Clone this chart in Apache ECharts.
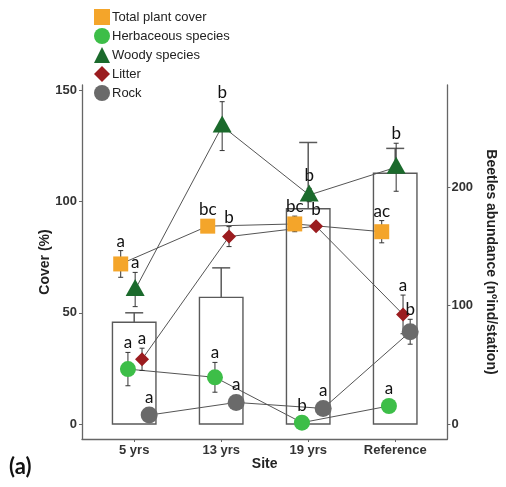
<!DOCTYPE html>
<html><head><meta charset="utf-8">
<script src="https://cdn.jsdelivr.net/npm/echarts@6/dist/echarts.min.js"></script>
<style>html,body{margin:0;padding:0;background:#fff}#c{width:506px;height:487px}</style>
</head><body><div id="c"></div>
<script>
// ---- data ----
const sites = ['5 yrs', '13 yrs', '19 yrs', 'Reference'];
const beetles = [86, 107, 182, 212];
const beetlesSE = [8, 25, 56, 21];
const totalCover = [72, 89, 90, 86.5];
const totalCoverSE = [6, 2, 3.5, 5];
const totalCoverLetters = ['a', 'bc', 'bc', 'ac'];
const herbaceous = [24.7, 21, 0.6, 8.1];
const herbaceousSE = [7.5, 6.7, 0.5, 0.5];
const herbaceousLetters = ['a', 'a', 'b', 'a'];
const woody = [60.5, 134, 103, 115.5];
const woodySE = [7.7, 11, 3, 10.8];
const woodyLetters = ['a', 'b', 'b', 'b'];
const litter = [29.1, 84.3, 89, 49.3];
const litterSE = [5, 4.5, 1.5, 8.7];
const litterLetters = ['a', 'b', 'b', 'a'];
const rock = [4, 9.7, 7, 41.5];
const rockSE = [1, 1.5, 1.5, 5.6];
const rockLetters = ['a', 'a', 'a', 'b'];
const coverTicks = [0, 50, 100, 150];
const beetleTicks = [0, 100, 200];
const siteTicks = [0, 1, 2, 3];

// ---- styling ----
const groups = [
  { name: 'Total plant cover', vals: totalCover, se: totalCoverSE, letters: totalCoverLetters, color: '#F4A52A', symbol: 'rect', size: 15, dx: -0.155, off: 0 },
  { name: 'Herbaceous species', vals: herbaceous, se: herbaceousSE, letters: herbaceousLetters, color: '#3DBE48', symbol: 'circle', size: 16, dx: -0.072, off: 0 },
  { name: 'Woody species', vals: woody, se: woodySE, letters: woodyLetters, color: '#1B6A2C', symbol: 'triangle', size: [19, 17], dx: 0.011, off: -2 },
  { name: 'Litter', vals: litter, se: litterSE, letters: litterLetters, color: '#9B1C1F', symbol: 'diamond', size: 14, dx: 0.09, off: 0 },
  { name: 'Rock', vals: rock, se: rockSE, letters: rockLetters, color: '#6A6A6A', symbol: 'circle', size: 17, dx: 0.172, off: 0 }
];
const AX = '#666';
const tickFont = { color: '#333', fontWeight: 'bold', fontSize: 13, fontFamily: 'Liberation Sans' };
const titleFont = { color: '#222', fontWeight: 'bold', fontSize: 14, fontFamily: 'Liberation Sans' };

const series = [];
// beetle bars (right axis)
series.push({
  type: 'custom', name: 'beetles', xAxisIndex: 0, yAxisIndex: 1, z: 1, silent: true,
  data: beetles.map((v, i) => [i, v, beetlesSE[i]]),
  renderItem: (params, api) => {
    const i = api.value(0), v = api.value(1), s = api.value(2);
    const p0 = api.coord([i - 0.25, 0]);
    const p1 = api.coord([i + 0.25, v]);
    const c = api.coord([i, v]);
    const t = api.coord([i, v + s]);
    return { type: 'group', children: [
      { type: 'rect', shape: { x: p0[0], y: p1[1], width: p1[0] - p0[0], height: p0[1] - p1[1] }, style: { fill: '#fff', stroke: '#5a5a5a', lineWidth: 1.4 } },
      { type: 'line', shape: { x1: c[0], y1: c[1], x2: t[0], y2: t[1] }, style: { stroke: '#5a5a5a', lineWidth: 1.5 } },
      { type: 'line', shape: { x1: t[0] - 9, y1: t[1], x2: t[0] + 9, y2: t[1] }, style: { stroke: '#5a5a5a', lineWidth: 1.5 } }
    ] };
  }
});
// connecting lines
groups.forEach(g => {
  series.push({
    type: 'line', name: g.name + ' line', z: 2, silent: true, symbol: 'none',
    data: g.vals.map((v, i) => [i + g.dx, v]),
    lineStyle: { color: '#555', width: 1 }
  });
});
// error bars of points
groups.forEach(g => {
  series.push({
    type: 'custom', name: g.name + ' err', z: 3, silent: true,
    data: g.vals.map((v, i) => [i + g.dx, v, g.se[i]]),
    renderItem: (params, api) => {
      const x = api.value(0), m = api.value(1), s = api.value(2);
      const t = api.coord([x, m + s]), b = api.coord([x, m - s]);
      const st = { stroke: '#333', lineWidth: 1 };
      return { type: 'group', children: [
        { type: 'line', shape: { x1: t[0], y1: t[1], x2: b[0], y2: b[1] }, style: st },
        { type: 'line', shape: { x1: t[0] - 2.5, y1: t[1], x2: t[0] + 2.5, y2: t[1] }, style: st },
        { type: 'line', shape: { x1: b[0] - 2.5, y1: b[1], x2: b[0] + 2.5, y2: b[1] }, style: st }
      ] };
    }
  });
});
// points
groups.forEach(g => {
  series.push({
    type: 'scatter', name: g.name, z: 4, silent: true,
    symbol: g.symbol, symbolSize: g.size, symbolOffset: [0, g.off],
    itemStyle: { color: g.color, opacity: 1 },
    data: g.vals.map((v, i) => [i + g.dx, v])
  });
});
// significance letters
groups.forEach(g => {
  const h = Array.isArray(g.size) ? g.size[1] : g.size;
  series.push({
    type: 'custom', name: g.name + ' letters', z: 5, silent: true,
    data: g.vals.map((v, i) => [i + g.dx, v, g.se[i]]),
    renderItem: (params, api) => {
      const x = api.value(0), m = api.value(1), s = api.value(2);
      const c = api.coord([x, m]);
      const t = api.coord([x, m + s]);
      const top = Math.min(t[1], c[1] + g.off - h / 2);
      return { type: 'text', x: c[0], y: top - 1, style: {
        text: g.letters[params.dataIndex], fill: '#111', fontSize: 17, fontFamily: 'Lato',
        align: 'center', verticalAlign: 'bottom', textAlign: 'center', textVerticalAlign: 'bottom'
      } };
    }
  });
});

const chart = echarts.init(document.getElementById('c'), null, { renderer: 'canvas' });
chart.setOption({
  animation: false,
  backgroundColor: '#fff',
  grid: { left: 82, right: 44, top: 85, bottom: 48 },
  legend: {
    data: groups.map(g => g.name), orient: 'vertical', left: 94, top: 9, padding: 0,
    itemWidth: 16, itemHeight: 16, itemGap: 3, selectedMode: false,
    textStyle: { color: '#222', fontSize: 13, fontFamily: 'Liberation Sans', padding: [0, 0, 0, -3] }
  },
  xAxis: {
    type: 'value', min: -0.6, max: 3.6,
    axisLine: { show: true, onZero: false, lineStyle: { color: AX, width: 1.3 } },
    axisTick: { show: true, customValues: siteTicks, length: 3, lineStyle: { color: AX } },
    axisLabel: { customValues: siteTicks, formatter: v => sites[Math.round(v)] || '', margin: 5, ...tickFont },
    splitLine: { show: false },
    name: 'Site', nameLocation: 'middle', nameGap: 18, nameMoveOverlap: false, nameTextStyle: titleFont
  },
  yAxis: [
    {
      type: 'value', position: 'left', min: -6.75, max: 152.5,
      axisLine: { show: true, onZero: false, lineStyle: { color: AX, width: 1.3 } },
      axisTick: { show: true, customValues: coverTicks, length: 3, lineStyle: { color: AX } },
      axisLabel: { customValues: coverTicks, margin: 5, ...tickFont },
      splitLine: { show: false },
      name: 'Cover (%)', nameLocation: 'middle', nameGap: 30, nameMoveOverlap: false, nameTextStyle: titleFont
    },
    {
      type: 'value', position: 'right', min: -12.7, max: 286.6,
      axisLine: { show: true, onZero: false, lineStyle: { color: AX, width: 1.3 } },
      axisTick: { show: true, customValues: beetleTicks, length: 3, lineStyle: { color: AX } },
      axisLabel: { customValues: beetleTicks, margin: 4, ...tickFont },
      splitLine: { show: false },
      name: 'Beetles abundance (nºind/station)', nameLocation: 'middle', nameGap: 30, nameRotate: -90,
      nameTextStyle: titleFont
    }
  ],
  graphic: [
    { type: 'text', left: 9, top: 456, style: { text: '(a)', fontSize: 22, fontWeight: 'bold', fontFamily: 'Lato', fill: '#111' } }
  ],
  series: series
});
</script>
</body></html>
